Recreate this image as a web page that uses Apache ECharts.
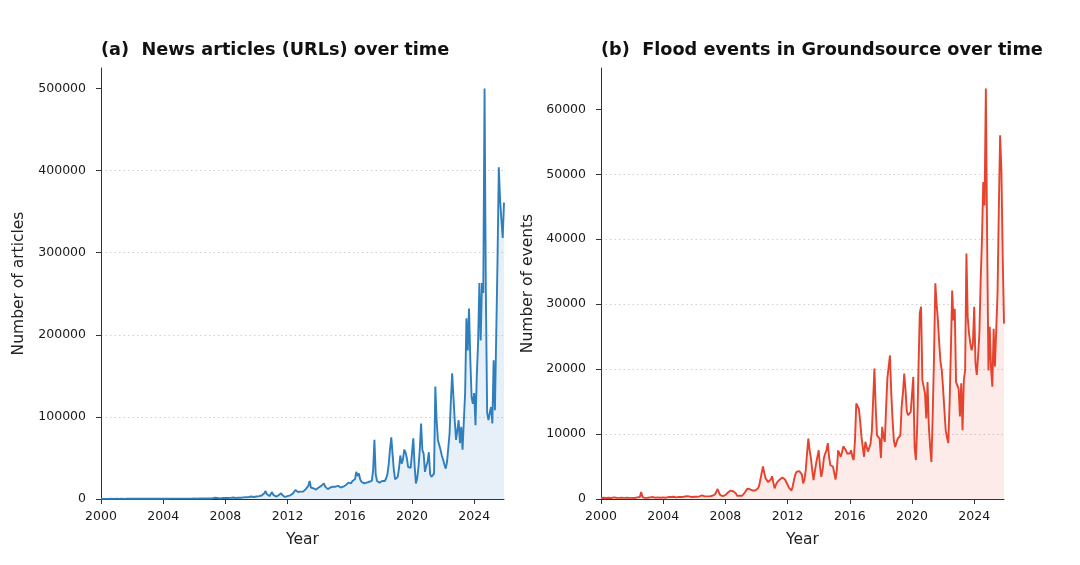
<!DOCTYPE html>
<html>
<head>
<meta charset="utf-8">
<script src="https://cdn.jsdelivr.net/npm/echarts@6/dist/echarts.min.js"></script>
<style>
html,body{margin:0;padding:0;background:#fff;}
#c{width:1080px;height:565px;}
</style>
</head>
<body>
<div id="c"></div>
<script>
const startYear = 2000;
const yearTicks = [2000, 2004, 2008, 2012, 2016, 2020, 2024];
const articleTicks = [0, 100000, 200000, 300000, 400000, 500000];
const eventTicks = [0, 10000, 20000, 30000, 40000, 50000, 60000];

// Monthly news articles (URLs), Jan 2000 .. Dec 2025
const articles = [
  200,150,180,220,200,250,180,200,230,210,190,240,            // 2000
  220,250,200,230,260,240,210,250,270,230,260,280,            // 2001
  260,300,280,250,320,300,280,310,290,330,300,320,            // 2002
  300,340,320,360,330,310,350,380,340,360,390,350,            // 2003
  380,400,360,420,390,430,410,380,440,420,400,450,            // 2004
  430,460,420,480,500,470,450,520,490,530,500,480,            // 2005
  520,550,500,580,540,600,560,620,590,560,610,640,            // 2006
  600,700,800,1000,1500,2000,1200,900,800,1000,1200,1100,     // 2007
  1200,1000,1300,1500,1400,1600,1800,1500,1300,1400,1600,1500,// 2008
  1500,1800,2000,2500,2200,2000,2400,2800,3000,2600,2400,2800,// 2009
  3000,3200,3500,3800,4200,5000,7000,9700,6000,4000,3500,4500,// 2010
  8500,5000,3500,3000,3500,4500,5500,7000,4500,3000,2500,3000,// 2011
  3500,4000,4500,5000,6500,8000,11000,9000,8500,8000,9000,8500,     // 2012
  9000,10000,12000,14000,16000,22000,14000,12000,13000,12000,11500,13000, // 2013
  14000,15000,16000,17000,19000,15000,14000,12000,13000,14000,13500,15000, // 2014
  16000,15000,14000,16000,17000,14000,13000,15000,16000,17000,18000,20000, // 2015
  21000,19000,22000,20000,24000,33000,28000,31000,24000,21000,20000,19000, // 2016
  19000,20000,19000,21000,20000,22000,35000,72000,30000,22000,21000,20000, // 2017
  21000,22000,23000,22000,25000,30000,42000,60000,75000,55000,35000,24000, // 2018
  23000,27000,38000,53000,43000,48000,60000,57000,50000,39000,40000,38000, // 2019
  39000,74000,41000,19000,25000,39000,60000,92000,60000,55000,33000,40000, // 2020
  45000,57000,30000,27000,29000,31000,137000,96000,72000,74000,60000,53000, // 2021
  48000,42000,37000,45000,62000,80000,120000,153000,124000,95000,72000,84000, // 2022
  96000,68000,88000,60000,95000,129000,220000,181000,232000,170000,124000,116000, // 2023
  129000,90000,150000,190000,263000,193000,263000,251000,500000,250000,105000,96000, // 2024
  105000,112000,92000,169000,108000,200000,291000,404000,364000,340000,318000,361000 // 2025
];

// Monthly flood events in Groundsource, Jan 2000 .. Dec 2025
const events = [
  150,120,200,180,150,250,200,180,150,200,250,180,            // 2000
  200,150,180,250,200,150,180,220,200,150,180,200,            // 2001
  180,200,150,220,250,200,300,1100,300,200,180,220,           // 2002
  200,180,250,200,300,250,200,180,250,220,200,250,            // 2003
  250,300,200,250,300,350,300,250,350,300,250,300,            // 2004
  300,350,300,400,350,400,450,500,400,350,300,350,            // 2005
  350,400,350,450,400,500,560,450,400,350,400,450,            // 2006
  400,450,500,600,700,900,1540,1000,600,500,450,500,          // 2007
  600,800,1000,1200,1300,1500,1200,1100,900,500,450,500,      // 2008
  460,500,700,1000,1300,1600,1800,1500,1200,1300,1400,1300,   // 2009
  1400,1600,2000,3000,4000,5000,4000,3200,2900,2600,2400,3000,// 2010
  3500,2500,1640,2200,2600,2900,3000,3200,3300,3100,3000,2900,// 2011
  2200,1750,1500,1300,2000,3000,3800,4200,4000,4300,4500,3800,// 2012
  2400,3000,4500,7000,9300,7500,6300,4500,2900,4200,5500,6500,// 2013
  7500,5000,3400,4500,6300,7000,7500,8600,6500,5200,5100,5000,// 2014
  4000,3000,4500,7500,7000,6500,7200,8100,7800,7500,7000,6800,// 2015
  7000,7500,6500,6000,9000,14700,14500,13900,12000,9600,9400,6500, // 2016
  8800,8000,7300,7600,8500,10400,10600,20100,14000,9800,9600,9300, // 2017
  6300,11100,9600,8800,14000,18600,18300,22100,16300,12200,9000,8000, // 2018
  8000,9300,9300,9800,14200,16300,19300,16800,13500,12900,13200,13400, // 2019
  13400,18800,8000,6000,11100,20000,28600,29600,18300,18600,16300,12400, // 2020
  18000,11100,8000,5700,13200,22000,33200,30000,27500,24000,21100,19800, // 2021
  17000,13700,10600,9500,8600,14700,22900,32100,27500,29300,18000,17500, // 2022
  17000,12700,17800,10600,18300,19800,37800,28000,25500,24000,22900,23900, // 2023
  29600,20900,19100,22000,25500,33700,40000,48800,45200,63200,39300,19800, // 2024
  26500,20100,17300,26200,20400,26000,31600,44500,56000,50600,37300,27000  // 2025
];

function toPairs(arr) {
  return arr.map((v, i) => [startYear + i / 12, v]);
}

const FONT = 'DejaVu Sans';
const lastX = startYear + (articles.length - 1) / 12;

function xAxisFor(gridIndex) {
  return {
    type: 'value', gridIndex: gridIndex, min: 2000, max: lastX, interval: 4,
    name: 'Year', nameLocation: 'middle', nameGap: 33,
    nameTextStyle: { fontFamily: FONT, fontSize: 15.5, color: '#222' },
    axisLine: { show: true, lineStyle: { color: '#333', width: 1 } },
    axisTick: { show: true, length: 5, lineStyle: { color: '#333' }, customValues: yearTicks },
    axisLabel: { fontFamily: FONT, fontSize: 12.5, color: '#1a1a1a', margin: 11,
      customValues: yearTicks, formatter: v => String(Math.round(v)) },
    splitLine: { show: false }
  };
}

function yAxisFor(gridIndex, max, interval, ticks, name, gap) {
  return {
    type: 'value', gridIndex: gridIndex, min: 0, max: max, interval: interval,
    name: name, nameLocation: 'middle', nameGap: gap,
    nameTextStyle: { fontFamily: FONT, fontSize: 15.5, color: '#222' },
    axisLine: { show: true, lineStyle: { color: '#333', width: 1 } },
    axisTick: { show: true, length: 5, lineStyle: { color: '#333' }, customValues: ticks },
    axisLabel: { fontFamily: FONT, fontSize: 12.5, color: '#1a1a1a', margin: 15,
      customValues: ticks, formatter: v => String(v) },
    splitLine: { show: true, showMinLine: false, showMaxLine: false,
      lineStyle: { color: '#cfcfcf', type: [1.5, 3], width: 1 } }
  };
}

const chart = echarts.init(document.getElementById('c'), null, { renderer: 'canvas' });
chart.setOption({
  animation: false,
  backgroundColor: '#fff',
  title: [
    { text: '(a)  News articles (URLs) over time', left: 101, top: 41, padding: 0,
      textStyle: { fontFamily: FONT, fontSize: 17.7, fontWeight: 'bold', color: '#111' } },
    { text: '(b)  Flood events in Groundsource over time', left: 601, top: 41, padding: 0,
      textStyle: { fontFamily: FONT, fontSize: 17.7, fontWeight: 'bold', color: '#111' } }
  ],
  grid: [
    { left: 101, right: 576, top: 68, bottom: 66 },
    { left: 601, right: 76, top: 68, bottom: 66 }
  ],
  xAxis: [xAxisFor(0), xAxisFor(1)],
  yAxis: [
    yAxisFor(0, 525000, 100000, articleTicks, 'Number of articles', 74),
    yAxisFor(1, 66360, 10000, eventTicks, 'Number of events', 65)
  ],
  series: [
    { type: 'line', xAxisIndex: 0, yAxisIndex: 0, data: toPairs(articles),
      showSymbol: false, symbol: 'none',
      lineStyle: { color: '#2f7fbf', width: 1.9 },
      areaStyle: { color: 'rgba(47,127,191,0.16)' } },
    { type: 'line', xAxisIndex: 1, yAxisIndex: 1, data: toPairs(events),
      showSymbol: false, symbol: 'none',
      lineStyle: { color: '#e5432d', width: 1.9 },
      areaStyle: { color: 'rgba(229,67,45,0.15)' } }
  ]
});
</script>
</body>
</html>
